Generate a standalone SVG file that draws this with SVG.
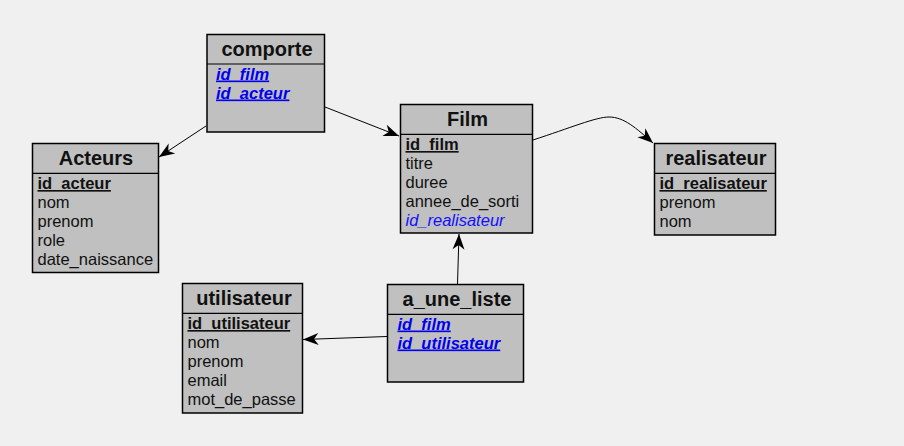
<svg xmlns="http://www.w3.org/2000/svg" width="904" height="446" viewBox="0 0 904 446">
<defs>
<style>
.box{fill:#c0c0c0;stroke:#000;stroke-width:1.5}
.sep{stroke:#000;stroke-width:1.2}
.title{font-family:"Liberation Sans",Arial,sans-serif;font-size:20px;font-weight:bold;fill:#111;text-anchor:middle}
.attr{font-family:"Liberation Sans",Arial,sans-serif;font-size:16.5px;fill:#111}
.pk{font-weight:bold;text-decoration:underline}
.fk{fill:#1010ff;font-style:italic}
.fkpk{fill:#0000ee;font-style:italic;font-weight:bold;text-decoration:underline}
.conn{fill:none;stroke:#000;stroke-width:1}
</style>
<marker id="arr" markerUnits="userSpaceOnUse" markerWidth="18" markerHeight="14" viewBox="0 0 18 14" refX="16.5" refY="7" orient="auto">
<path d="M1,1 L16.5,7 L1,13 L5.5,7 z" fill="#000"/>
</marker>
</defs>
<rect width="904" height="446" fill="#f0f0f0"/>
<g id="connectors">
<path class="conn" d="M325,107 L399,136" marker-end="url(#arr)"/>
<path class="conn" d="M206,126 L159,157" marker-end="url(#arr)"/>
<path class="conn" d="M533,140 C570,128 596,117 609,117 C624,117 636,128 653,143" marker-end="url(#arr)"/>
<path class="conn" d="M457.5,284 L459,234" marker-end="url(#arr)"/>
<path class="conn" d="M387,336.5 L303,339.5" marker-end="url(#arr)"/>
</g>
<g id="comporte">
<rect class="box" x="207" y="34.5" width="117.5" height="97.5"/>
<line class="sep" x1="207" y1="64" x2="324.5" y2="64"/>
<text class="title" x="267" y="56">comporte</text>
<text class="attr fkpk" x="216" y="79.5">id_film</text>
<text class="attr fkpk" x="216" y="98.5">id_acteur</text>
</g>
<g id="Film">
<rect class="box" x="400.5" y="104.5" width="132" height="128.5"/>
<line class="sep" x1="400.5" y1="134.3" x2="532.5" y2="134.3"/>
<text class="title" x="467.5" y="126">Film</text>
<text class="attr pk" x="405.5" y="150">id_film</text>
<text class="attr" x="405.5" y="169">titre</text>
<text class="attr" x="405.5" y="188">duree</text>
<text class="attr" x="405.5" y="207">annee_de_sorti</text>
<text class="attr fk" x="405.5" y="226">id_realisateur</text>
</g>
<g id="Acteurs">
<rect class="box" x="32.5" y="143.5" width="126" height="129"/>
<line class="sep" x1="32.5" y1="173.3" x2="158.5" y2="173.3"/>
<text class="title" x="96" y="165">Acteurs</text>
<text class="attr pk" x="37.5" y="189">id_acteur</text>
<text class="attr" x="37.5" y="208">nom</text>
<text class="attr" x="37.5" y="227">prenom</text>
<text class="attr" x="37.5" y="246">role</text>
<text class="attr" x="37.5" y="265">date_naissance</text>
</g>
<g id="realisateur">
<rect class="box" x="654.5" y="143.5" width="121" height="91.5"/>
<line class="sep" x1="654.5" y1="173.3" x2="775.5" y2="173.3"/>
<text class="title" x="716" y="165">realisateur</text>
<text class="attr pk" x="659.5" y="189">id_realisateur</text>
<text class="attr" x="659.5" y="208">prenom</text>
<text class="attr" x="659.5" y="227">nom</text>
</g>
<g id="utilisateur">
<rect class="box" x="182.5" y="283.5" width="120" height="129.5"/>
<line class="sep" x1="182.5" y1="313.3" x2="302.5" y2="313.3"/>
<text class="title" x="244" y="305">utilisateur</text>
<text class="attr pk" x="187.5" y="329">id_utilisateur</text>
<text class="attr" x="187.5" y="348">nom</text>
<text class="attr" x="187.5" y="367">prenom</text>
<text class="attr" x="187.5" y="386">email</text>
<text class="attr" x="187.5" y="405">mot_de_passe</text>
</g>
<g id="a_une_liste">
<rect class="box" x="387.5" y="284.5" width="136" height="97.5"/>
<line class="sep" x1="387.5" y1="314.3" x2="523.5" y2="314.3"/>
<text class="title" x="457" y="305.5">a_une_liste</text>
<text class="attr fkpk" x="397.5" y="329.5">id_film</text>
<text class="attr fkpk" x="397.5" y="348.5">id_utilisateur</text>
</g>
</svg>
